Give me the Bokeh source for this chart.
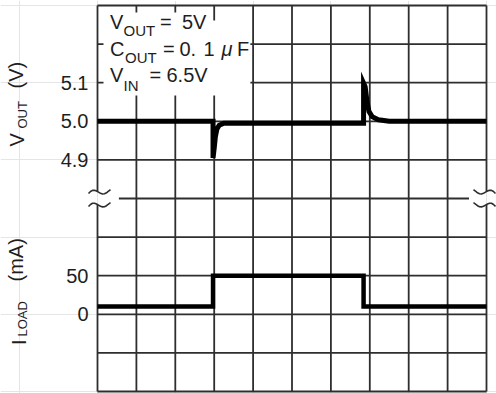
import math
from bokeh.plotting import figure
from bokeh.models import Range1d, LinearAxis, FixedTicker, Label
from bokeh.embed import file_html
from bokeh.resources import INLINE

# ---------------- data ----------------
n_div = 10
v_ticks = [4.9, 5.0, 5.1]
v_tick_labels = ["4.9", "5.0", "5.1"]
i_ticks = [0, 50]
i_tick_labels = ["0", "50"]

vout_t = [0.0, 2.97, 2.97, 3.00, 3.03, 3.07, 3.13, 3.25, 6.84, 6.84, 6.88, 6.93, 6.98, 7.06, 7.22, 7.50, 10.0]
vout_v = [5.0, 5.0, 4.905, 4.93, 4.96, 4.98, 4.99, 4.995, 4.995, 5.099, 5.09, 5.05, 5.025, 5.012, 5.004, 5.0, 5.0]

iload_t = [0.0, 2.97, 2.97, 6.84, 6.84, 10.0]
iload_ma = [10, 10, 50, 50, 10, 10]

# scale: divisions (grid units)
V_CENTER_DIV, V_CENTER, V_PER_DIV = 7, 5.0, 0.1
I_ZERO_DIV, I_PER_DIV = 2, 50

# ---------------- figure ----------------
W, H = 496, 393
GX0, PXX = 97.0, 38.9     # grid left edge / px per division (x)
GY0, PXY = 5.0, 38.6      # grid top edge / px per division (y)
X0, X1 = (0 - GX0) / PXX, (W - GX0) / PXX
Y0, Y1 = n_div - (H - GY0) / PXY, n_div + GY0 / PXY
GRID = "#2e2e2e"
TXT = "#1e1e1e"
FONT = "Liberation Sans"

p = figure(width=W, height=H, x_range=Range1d(X0, X1), y_range=Range1d(Y0, Y1),
           x_axis_location=None, y_axis_location=None, toolbar_location=None,
           output_backend="svg", min_border_left=0, min_border_right=0,
           min_border_top=0, min_border_bottom=0, outline_line_color=None,
           background_fill_color="white", border_fill_color="white")

p.extra_y_ranges = {
    "v": Range1d(V_CENTER + (Y0 - V_CENTER_DIV) * V_PER_DIV, V_CENTER + (Y1 - V_CENTER_DIV) * V_PER_DIV),
    "i": Range1d((Y0 - I_ZERO_DIV) * I_PER_DIV, (Y1 - I_ZERO_DIV) * I_PER_DIV),
}

# tick labels on a left axis (positions in division units); labels pushed into the frame
tick_pos = [round(V_CENTER_DIV + (v - V_CENTER) / V_PER_DIV, 6) for v in v_ticks] + \
           [round(I_ZERO_DIV + i / I_PER_DIV, 6) for i in i_ticks]
tick_txt = v_tick_labels + i_tick_labels
ax = LinearAxis(ticker=FixedTicker(ticks=tick_pos),
                major_label_overrides={tp: tt for tp, tt in zip(tick_pos, tick_txt)})
ax.axis_line_color = None
ax.major_tick_line_color = None
ax.minor_tick_line_color = None
ax.major_tick_out = 0
ax.major_tick_in = 0
ax.major_label_text_font = FONT
ax.major_label_text_font_size = "20px"
ax.major_label_text_color = TXT
ax.major_label_standoff = -88
p.add_layout(ax, "left")

# ---------------- grid ----------------
divs = list(range(n_div + 1))
p.segment(x0=divs[1:-1], y0=[0] * 9, x1=divs[1:-1], y1=[n_div] * 9, line_color=GRID, line_width=1.8)
hx0, hx1, hy = [], [], []
for d in divs:
    if d == 5:
        hx0.append(0.55); hx1.append(9.55)
    else:
        hx0.append(0); hx1.append(n_div)
    hy.append(d)
p.segment(x0=hx0, y0=hy, x1=hx1, y1=hy, line_color=GRID, line_width=1.8)

BRK_TOP, BRK_BOT = 5.18, 4.845
p.segment(x0=[0, 0, n_div, n_div], y0=[n_div, BRK_BOT, n_div, BRK_BOT],
          x1=[0, 0, n_div, n_div], y1=[BRK_TOP, 0, BRK_TOP, 0], line_color=GRID, line_width=1.8)

# break squiggle shape (px offsets)
sq_dx = [-9, -7, -5, -3, -1, 1, 3, 5, 7, 9, 11, 13]
sq_dy = [-2, 0, 1.2, 1.3, 0.5, -0.6, -1.8, -2.4, -2.2, -1.2, 0.4, 1.8]
xs, ys = [], []
for bx, sgn in ((0, 1), (n_div, -1)):
    for by in (BRK_TOP, BRK_BOT):
        xs.append([bx + sgn * dx / PXX for dx in sq_dx])
        ys.append([by + dy / PXY for dy in sq_dy])
p.multi_line(xs=xs, ys=ys, line_color=GRID, line_width=1.6)

# white box behind the condition text
p.quad(left=[0.154, 0.154], right=[3.93, 2.905], top=[9.61, 9.82], bottom=[7.67, 9.6],
       fill_color="white", line_color=None)

# ---------------- traces ----------------
p.line(vout_t, vout_v, y_range_name="v", line_color="black", line_width=5, line_join="miter")
p.line(iload_t, iload_ma, y_range_name="i", line_color="black", line_width=4.5, line_join="miter")

# ---------------- text ----------------
K_BASE = 0.425  # Label puts the alphabetic baseline this many em below its anchor

def ref_label(text, rx, ry, size, rotated=False, style="normal"):
    if rotated:
        rx = rx - K_BASE * size
    else:
        ry = ry - K_BASE * size
    p.add_layout(Label(x=(rx - GX0) / PXX, y=n_div - (ry - GY0) / PXY, text=text,
                       text_font=FONT, text_font_size=f"{size}px", text_color=TXT,
                       text_font_style=style, angle=(math.pi / 2 if rotated else 0.0),
                       text_align="left", text_baseline="alphabetic"))

ref_label("V", 109.5, 30, 20)
ref_label("OUT", 123, 36.5, 15)
ref_label("=", 159.5, 30, 20)
ref_label("5V", 181.5, 30, 20)

ref_label("C", 109.5, 56.7, 20)
ref_label("OUT", 124.5, 63, 15)
ref_label("=", 162.5, 56.7, 20)
ref_label("0.", 179, 56.7, 20)
ref_label("1", 203, 56.7, 20)
ref_label("\u03bc", 221, 56.7, 20, style="italic")
ref_label("F", 236.5, 56.7, 20)

ref_label("V", 109.5, 83, 20)
ref_label("IN", 123, 91.5, 15)
ref_label("=", 149, 83, 20)
ref_label("6.5V", 166, 83, 20)

ref_label("V", 25, 146, 20, rotated=True)
ref_label("OUT", 28, 128, 13, rotated=True)
ref_label("(V)", 24, 88, 20, rotated=True)

ref_label("I", 27, 344.5, 20, rotated=True)
ref_label("LOAD", 28, 336, 13, rotated=True)
ref_label("(mA)", 24, 281, 20, rotated=True)

open("out.html", "w").write(file_html(p, INLINE))
